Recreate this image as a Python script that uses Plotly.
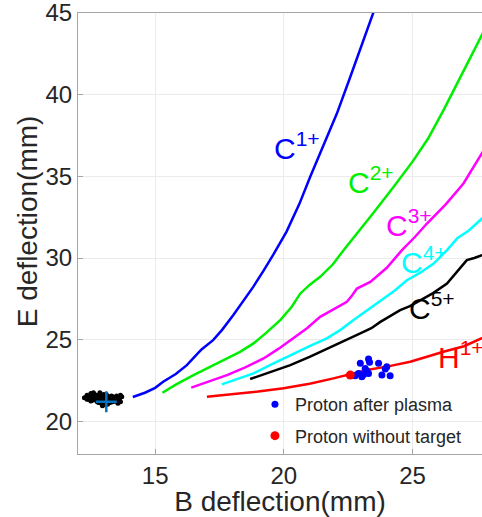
import plotly.graph_objects as go

# ---- data ----
c1_x = [14.13, 14.6, 15.0, 15.31, 15.8, 16.23, 16.5, 16.8, 17.25, 17.6, 18.03, 18.4, 18.81, 19.2, 19.59, 20.1, 20.6, 21.02, 21.5, 22.06, 22.58, 23.0, 23.48, 23.7]
c1_y = [21.49, 21.75, 22.05, 22.42, 22.9, 23.44, 23.9, 24.4, 24.97, 25.6, 26.5, 27.3, 28.23, 29.2, 30.2, 31.6, 33.3, 34.96, 36.8, 38.84, 41.08, 42.9, 45.0, 46.0]

c2_x = [15.28, 15.8, 16.49, 17.1, 17.79, 18.3, 18.82, 19.3, 19.86, 20.3, 20.64, 21.0, 21.41, 21.9, 22.32, 22.8, 23.5, 24.26, 25.0, 25.6, 26.2, 26.9, 27.7, 28.0]
c2_y = [21.75, 22.25, 22.83, 23.3, 23.85, 24.25, 24.77, 25.4, 26.2, 27.0, 27.83, 28.35, 28.85, 29.6, 30.48, 31.4, 32.8, 34.35, 35.9, 37.3, 39.04, 41.2, 43.73, 44.6]

c3_x = [16.40, 17.0, 17.79, 18.5, 19.21, 19.8, 20.38, 20.9, 21.41, 21.9, 22.45, 22.65, 22.84, 23.36, 24.0, 24.59, 25.1, 25.56, 26.3, 26.98, 27.7, 28.0]
c3_y = [22.06, 22.4, 22.83, 23.3, 23.85, 24.45, 25.08, 25.7, 26.4, 26.85, 27.32, 27.7, 28.13, 28.54, 29.4, 30.48, 31.3, 32.11, 33.3, 34.56, 36.49, 37.2]

c4_x = [17.59, 18.2, 18.82, 19.6, 20.38, 21.0, 21.67, 22.2, 22.71, 23.2, 23.75, 24.3, 24.78, 25.3, 25.82, 26.34, 26.73, 27.2, 27.7, 28.0]
c4_y = [22.26, 22.6, 22.94, 23.55, 24.16, 24.6, 25.08, 25.6, 26.2, 26.75, 27.42, 28.0, 28.64, 29.1, 29.66, 30.48, 31.19, 31.7, 32.42, 32.9]

c5_x = [18.69, 19.4, 20.25, 21.0, 21.67, 22.3, 22.97, 23.4, 23.75, 24.1, 24.52, 24.9, 25.3, 25.8, 26.34, 26.7, 27.11, 27.4, 27.7, 28.0]
c5_y = [22.59, 22.98, 23.44, 23.95, 24.46, 24.9, 25.38, 25.7, 26.09, 26.4, 26.81, 27.05, 27.42, 27.85, 28.44, 29.1, 29.87, 30.0, 30.17, 30.4]

h1_x = [17.01, 18.0, 19.0, 19.99, 21.0, 21.93, 22.6, 23.23, 24.1, 24.91, 25.56, 26.2, 27.0, 27.7, 28.0]
h1_y = [21.5, 21.65, 21.82, 22.02, 22.3, 22.63, 22.88, 23.14, 23.38, 23.65, 23.95, 24.26, 24.6, 25.08, 25.3]

cloud_x = [12.25, 12.35, 12.4, 12.5, 12.55, 12.6, 12.65, 12.7, 12.75, 12.8, 12.85, 12.9, 12.95, 13.0, 13.05,
           13.1, 13.15, 13.2, 13.25, 13.3, 13.35, 13.4, 13.45, 13.5, 13.55, 13.6, 13.65, 13.7, 12.45, 12.6,
           12.7, 12.85, 12.95, 13.1, 13.2, 13.3, 13.45, 13.55, 13.65, 12.35, 12.55, 12.75, 12.9, 13.05, 13.25,
           13.4, 13.6, 12.5, 12.8, 13.0, 13.15, 13.35, 12.65, 12.95, 13.5]
cloud_y = [21.45, 21.6, 21.35, 21.7, 21.5, 21.3, 21.65, 21.45, 21.2, 21.6, 21.4, 21.1, 21.55, 21.3, 21.05,
           21.45, 21.25, 21.5, 21.15, 21.35, 21.2, 21.4, 21.25, 21.55, 21.3, 21.45, 21.2, 21.5, 21.55, 21.75,
           21.3, 21.75, 20.95, 21.65, 21.35, 21.55, 21.45, 21.1, 21.6, 21.35, 21.4, 21.55, 21.3, 21.6, 21.45,
           21.3, 21.35, 21.25, 21.15, 21.65, 21.05, 21.5, 21.55, 21.45, 21.4]

center_x = [13.1]
center_y = [21.2]

after_x = [23.29, 23.33, 22.97, 23.68, 24.0, 23.16, 23.23, 22.9, 23.1, 23.29, 23.81, 24.13, 22.77, 23.03, 23.94]
after_y = [23.81, 23.61, 23.55, 23.55, 23.34, 23.24, 23.08, 22.93, 22.87, 22.93, 22.83, 22.79, 22.79, 22.73, 23.2]

notarget_x = [22.58]
notarget_y = [22.83]

labels = [
    ("C<sup>1+</sup>", 19.55, 36.85, "#0000ff"),
    ("C<sup>2+</sup>", 22.4, 34.8, "#00ee00"),
    ("C<sup>3+</sup>", 23.9, 32.15, "#ff00ff"),
    ("C<sup>4+</sup>", 24.48, 29.85, "#00ffff"),
    ("C<sup>5+</sup>", 24.8, 27.05, "#000000"),
    ("H<sup>1+</sup>", 25.9, 24.05, "#ff0000"),
]

FONT = "Liberation Sans, Arial, Helvetica, sans-serif"

fig = go.Figure()

for xs, ys, col in [(c1_x, c1_y, "#0000ff"), (c2_x, c2_y, "#00ee00"), (c3_x, c3_y, "#ff00ff"),
                    (c4_x, c4_y, "#00ffff"), (c5_x, c5_y, "#000000"), (h1_x, h1_y, "#ff0000")]:
    fig.add_trace(go.Scatter(x=xs, y=ys, mode="lines", line=dict(color=col, width=2.5),
                             showlegend=False, hoverinfo="skip"))

fig.add_trace(go.Scatter(x=cloud_x, y=cloud_y, mode="markers",
                         marker=dict(color="black", size=5), showlegend=False))
fig.add_trace(go.Scatter(x=center_x, y=center_y, mode="markers",
                         marker=dict(symbol="cross-thin", size=15, line=dict(color="#0072BD", width=2.5)),
                         showlegend=False))

fig.add_trace(go.Scatter(x=after_x, y=after_y, mode="markers", name="Proton after plasma",
                         marker=dict(color="#0000ff", size=7), legendgroup="a"))
fig.add_trace(go.Scatter(x=notarget_x, y=notarget_y, mode="markers", name="Proton without target",
                         marker=dict(color="#ff0000", size=9), legendgroup="b"))

for txt, x, y, col in labels:
    fig.add_annotation(x=x, y=y, text=txt, showarrow=False, xanchor="left", yanchor="middle",
                       font=dict(family=FONT, size=30, color=col))

# y-axis title placed as rotated annotation (reference title sits above plot centre)
fig.add_annotation(xref="paper", yref="paper", x=-0.126, y=0.528, text="E deflection(mm)",
                   textangle=-90, showarrow=False, xanchor="center", yanchor="middle",
                   font=dict(family=FONT, size=28, color="#262626"))

axis_common = dict(showgrid=True, gridcolor="#ebebeb", gridwidth=1, showline=True, linecolor="#a6a6a6",
                   linewidth=1, mirror=True, ticks="inside", ticklen=5, tickcolor="#a6a6a6",
                   tickfont=dict(family=FONT, size=24, color="#262626"), zeroline=False,
                   automargin=False, ticklabeloverflow="allow")

fig.update_layout(
    width=482, height=517,
    margin=dict(l=78, r=0, t=13, b=63),
    plot_bgcolor="white", paper_bgcolor="white",
    font=dict(family=FONT, color="#262626"),
    xaxis=dict(range=[12, 27.7], tickvals=[15, 20, 25], **axis_common,
               title=dict(text="B deflection(mm)", font=dict(family=FONT, size=28, color="#262626"), standoff=0)),
    yaxis=dict(range=[18, 45], tickvals=[20, 25, 30, 35, 40, 45], **axis_common),
    legend=dict(x=0.438, y=0.154, xanchor="left", yanchor="top", bgcolor="rgba(0,0,0,0)",
                font=dict(family=FONT, size=18, color="#262626"), tracegroupgap=5),
)

fig.write_html("out.html", config={"displayModeBar": False},
               post_script="document.body.style.margin='0';document.body.style.padding='0';document.body.style.overflow='hidden';")
